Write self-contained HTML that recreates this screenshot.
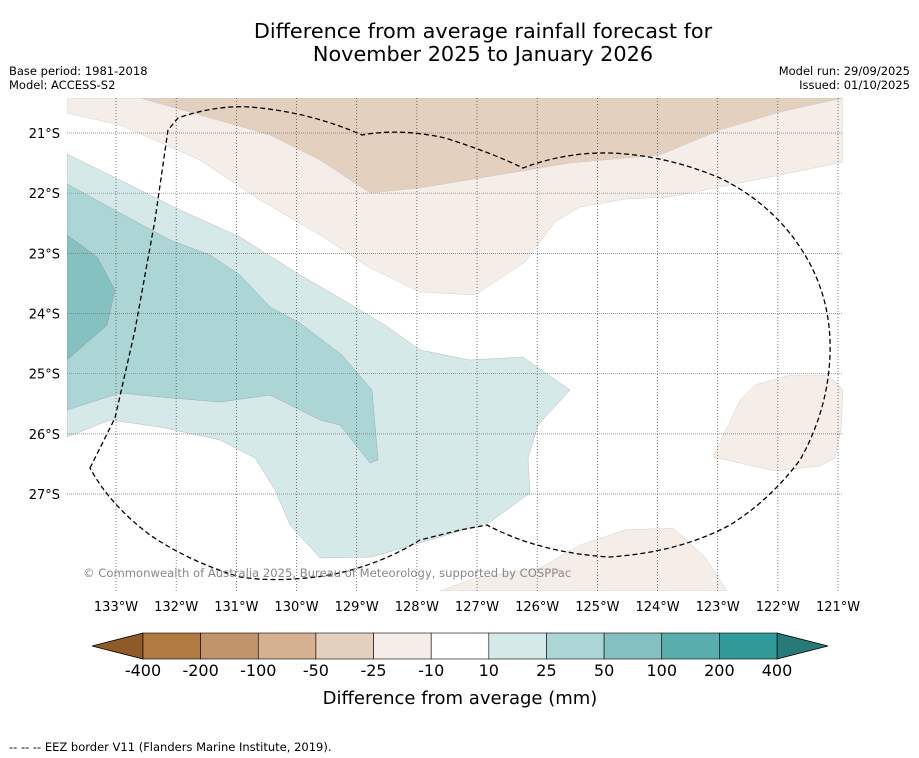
<!DOCTYPE html>
<html><head><meta charset="utf-8"><style>
body{margin:0;background:#fff;width:919px;height:758px;overflow:hidden;font-family:"DejaVu Sans","Liberation Sans",sans-serif}
svg{display:block}
</style></head><body>
<svg id="chart" width="919" height="758" xmlns="http://www.w3.org/2000/svg" font-family="DejaVu Sans, Liberation Sans, sans-serif">
<rect width="919" height="758" fill="#fff"/>
<text x="483" y="38" font-size="20.8" text-anchor="middle">Difference from average rainfall forecast for</text>
<text x="483" y="61" font-size="20.8" text-anchor="middle">November 2025 to January 2026</text>
<text x="9" y="75" font-size="11.5">Base period: 1981-2018</text>
<text x="9" y="89" font-size="11.5">Model: ACCESS-S2</text>
<text x="910" y="75" font-size="11.5" text-anchor="end">Model run: 29/09/2025</text>
<text x="910" y="89" font-size="11.5" text-anchor="end">Issued: 01/10/2025</text>
<defs><clipPath id="mc"><rect x="67" y="98" width="776" height="493"/></clipPath></defs>
<g id="map" clip-path="url(#mc)">
<polygon fill="#f5ede7" stroke="#bbb" stroke-width="0.3" points="67,98 67,113 120,125 200,160 260,200 320,235 370,268 420,292 475,295 525,262 555,222 580,207 625,199 670,197 720,187 780,175 843,162 843,98"/>
<polygon fill="#e4d0bf" stroke="#bbb" stroke-width="0.3" points="140,98 200,115 270,135 320,160 370,193 420,188 480,178 570,163 660,155 720,130 780,112 843,98"/>
<polygon fill="#d4e9e8" stroke="#999" stroke-width="0.3" points="67,154 120,180 180,210 220,228 240,237 300,275 340,298 385,325 420,350 470,360 523,357 570,390 538,425 528,458 530,493 490,522 430,540 372,557 320,558 290,525 275,490 255,458 220,440 160,427 110,420 67,437"/>
<polygon fill="#acd6d6" stroke="#888" stroke-width="0.3" points="67,184 120,213 170,240 210,255 240,275 270,307 300,323 342,355 372,390 378,460 370,463 340,425 320,420 270,395 220,402 160,397 120,393 67,410"/>
<polygon fill="#84c1c0" stroke="#777" stroke-width="0.3" points="67,235 97,257 115,290 107,325 67,360"/>
<polygon fill="#f5ede7" stroke="#bbb" stroke-width="0.3" points="713,457 740,400 755,385 790,375 828,375 843,390 841,430 835,458 820,466 775,471"/>
<polygon fill="#f5ede7" stroke="#bbb" stroke-width="0.3" points="440,591 475,578 540,568 580,545 625,530 673,528 705,557 727,591"/>
<g id="grid"></g>
<path fill="none" stroke="#000" stroke-width="1.3" stroke-dasharray="5,3" d="M90,468 L115,418 L135,330 L155,220 L168,130 L178,118 Q215,105 250,107 Q310,112 362,135 Q400,128 445,138 Q490,152 523,168 Q565,152 610,153 Q665,155 720,178 Q775,205 805,255 Q832,300 830,355 Q828,410 800,460 Q770,500 730,525 Q680,552 610,557 Q540,553 487,525 L460,530 L420,540 Q380,565 330,575 Q280,583 240,577 Q190,562 150,535 Q110,505 90,468 Z"/>
<text x="83" y="577" font-size="11.6" fill="#888">© Commonwealth of Australia 2025, Bureau of Meteorology, supported by COSPPac</text>
</g>
<g id="axes"></g>
<g id="cbar"></g>
<text x="460" y="704" font-size="18" text-anchor="middle">Difference from average (mm)</text>
<text x="9" y="751" font-size="11.5">--  --  -- EEZ border V11 (Flanders Marine Institute, 2019).</text>
</svg>
<script>
const lonTicks=[133,132,131,130,129,128,127,126,125,124,123,122,121];
const latTicks=[21,22,23,24,25,26,27];
const cbarBounds=["-400","-200","-100","-50","-25","-10","10","25","50","100","200","400"];
const cbarColors=["#b07a40","#c0946a","#d4b090","#e4d0bf","#f5ede7","#ffffff","#d4e9e8","#acd6d6","#84c1c0","#5aadad","#319a98"];
const NS="http://www.w3.org/2000/svg";
const pxPerDeg=60.17;
function xLon(l){return 116+(133-l)*pxPerDeg;}
function yLat(l){return 133+(l-21)*pxPerDeg;}
function mk(t,a,p){const e=document.createElementNS(NS,t);for(const k in a)e.setAttribute(k,a[k]);p.appendChild(e);return e;}
const grid=document.getElementById('grid'),axes=document.getElementById('axes'),cb=document.getElementById('cbar');
lonTicks.forEach(l=>{const x=xLon(l);
 const g=mk('line',{x1:x,x2:x,y1:98,y2:591,stroke:'#444','stroke-width':0.7,'stroke-dasharray':'1,2'},grid);
 
 
 const t=mk('text',{x:x,y:611,'font-size':13,'text-anchor':'middle'},axes);t.textContent=l+'°W';
 
 
});
latTicks.forEach(l=>{const y=yLat(l);
 const g=mk('line',{x1:67,x2:843,y1:y,y2:y,stroke:'#777','stroke-width':0.7,'stroke-dasharray':'1,1'},grid);
 
 
 const t=mk('text',{x:60,y:y+5,'font-size':13,'text-anchor':'end'},axes);t.textContent=l+'°S';
 
 
});
const cx0=143,cx1=777,cy=633,ch=26,n=cbarColors.length,w=(cx1-cx0)/n;
const lt=mk('polygon',{points:`${cx0},${cy} ${cx0},${cy+ch} 92,${cy+ch/2}`,fill:'#8e5a28',stroke:'#000','stroke-width':0.8},cb);


const rt=mk('polygon',{points:`${cx1},${cy} ${cx1},${cy+ch} 828,${cy+ch/2}`,fill:'#277a78',stroke:'#000','stroke-width':0.8},cb);


cbarColors.forEach((c,i)=>{const r=mk('rect',{x:cx0+i*w,y:cy,width:w,height:ch,fill:c,stroke:'#000','stroke-width':0.6},cb);
 
 });
cbarBounds.forEach((b,i)=>{const t=mk('text',{x:cx0+i*w,y:676,'font-size':16,'text-anchor':'middle'},cb);t.textContent=b;
 
 });
</script>
</body></html>
